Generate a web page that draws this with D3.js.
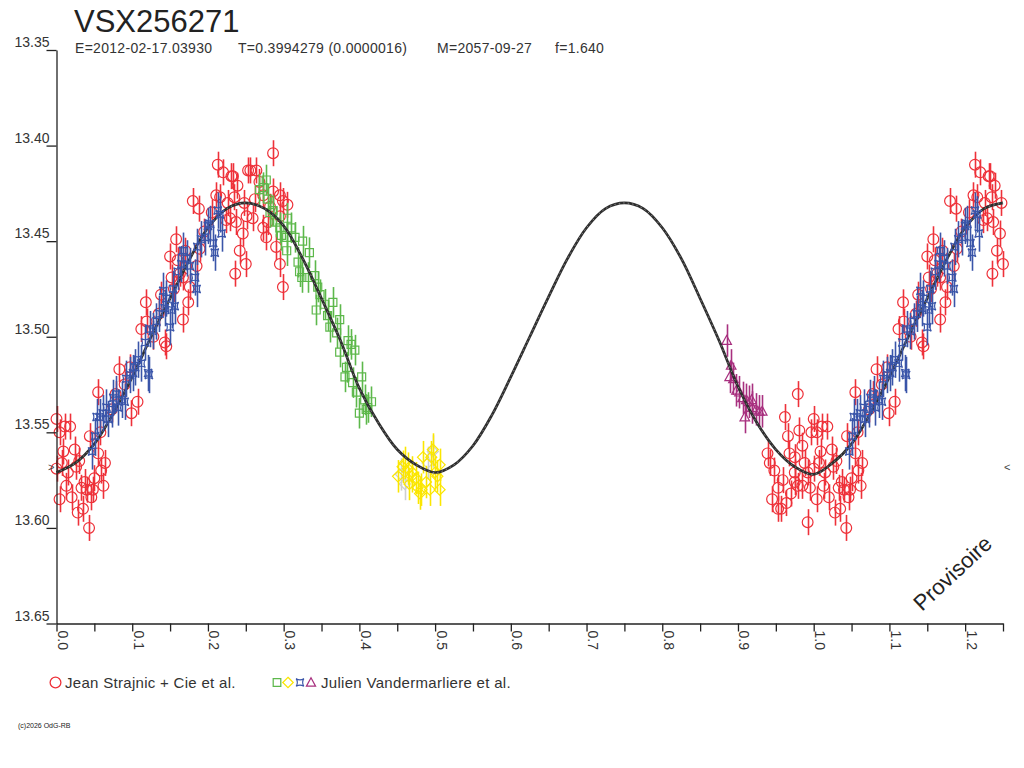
<!DOCTYPE html>
<html>
<head>
<meta charset="utf-8">
<script src="https://cdn.jsdelivr.net/npm/d3@7"></script>
<style>
	body { margin: 0; background: #fff; }
	svg { display: block; font-family: "Liberation Sans", Arial, sans-serif; }
</style>
</head>
<body>
<figure id="lightcurve" style="margin:0"></figure>
<script>
// phase / magnitude pairs (phases 0..1, the first quarter is repeated after 1.0)
var redPoints = [
	[0.000,13.543],[0.004,13.550],[0.011,13.547],[0.018,13.547],[0.004,13.585],[0.020,13.584],[0.035,13.590],
	[0.043,13.600],[0.046,13.584],[0.048,13.580],[0.050,13.574],[0.059,13.570],[0.064,13.566],[0.055,13.561],
	[0.044,13.552],[0.024,13.559],[0.009,13.560],[0.015,13.571],[0.033,13.579],[0.026,13.568],[0.037,13.576],
	[0.000,13.569],[0.040,13.580],[0.030,13.565],[0.013,13.578],[0.058,13.550],[0.062,13.578],[0.028,13.592],
	[0.007,13.566],
	[0.055,13.529],[0.083,13.517],[0.097,13.516],[0.107,13.534],[0.099,13.540],[0.112,13.496],[0.119,13.492],
	[0.118,13.482],[0.143,13.503],[0.145,13.505],[0.150,13.458],[0.158,13.449],[0.152,13.469],[0.160,13.460],
	[0.163,13.467],[0.167,13.491],[0.174,13.482],[0.167,13.469],[0.180,13.429],[0.188,13.433],[0.176,13.474],
	[0.189,13.454],[0.185,13.463],[0.090,13.525],[0.073,13.538],[0.128,13.500],[0.135,13.488],[0.155,13.475],
	[0.170,13.455],[0.195,13.445],[0.078,13.530],[0.138,13.478],
	[0.211,13.426],[0.213,13.410],[0.220,13.414],[0.231,13.416],[0.239,13.421],[0.229,13.438],[0.236,13.467],
	[0.242,13.455],[0.250,13.462],[0.253,13.413],[0.246,13.446],[0.224,13.439],[0.216,13.427],[0.237,13.440],
	[0.286,13.404],[0.256,13.413],[0.264,13.413],[0.233,13.416],[0.235,13.427],[0.259,13.438],[0.251,13.437],
	[0.273,13.443],[0.277,13.448],[0.286,13.424],[0.295,13.426],[0.299,13.429],[0.305,13.431],[0.290,13.453],
	[0.295,13.462],[0.299,13.474],[0.268,13.419],[0.282,13.432],[0.295,13.437],[0.273,13.426],[0.205,13.435],
	[0.226,13.430],[0.262,13.428],[0.248,13.430],[0.279,13.440],
	[0.979,13.530],[0.962,13.542],[0.939,13.561],[0.942,13.566],[0.948,13.570],[0.953,13.579],[0.953,13.590],
	[0.964,13.587],[0.957,13.590],[0.968,13.561],[0.975,13.563],[0.981,13.549],[0.985,13.557],[0.975,13.571],
	[0.992,13.597],[0.997,13.550],[0.979,13.578],[0.985,13.578],[0.992,13.571],[0.975,13.576],[0.995,13.579],
	[0.959,13.575],[0.970,13.582],[0.988,13.566],[0.945,13.585],[0.966,13.552]
];
var bluePoints = [
	[0.047,13.560],[0.051,13.552],[0.053,13.542],[0.057,13.542],[0.061,13.540],[0.066,13.537],[0.068,13.543],
	[0.073,13.538],[0.075,13.532],[0.079,13.530],[0.081,13.537],[0.086,13.533],[0.090,13.534],[0.092,13.522],
	[0.097,13.520],[0.101,13.519],[0.104,13.516],[0.107,13.512],[0.112,13.514],[0.117,13.503],[0.121,13.519],
	[0.123,13.496],[0.127,13.497],[0.132,13.492],[0.136,13.488],[0.141,13.476],[0.143,13.485],[0.145,13.480],
	[0.154,13.475],[0.156,13.484],[0.160,13.466],[0.165,13.462],[0.167,13.455],[0.172,13.459],[0.176,13.463],
	[0.183,13.469],[0.185,13.475],[0.186,13.453],[0.191,13.449],[0.196,13.448],[0.200,13.442],[0.203,13.441],
	[0.207,13.451],[0.209,13.456],[0.213,13.434],[0.218,13.446],[0.216,13.436],[0.122,13.520],[0.150,13.495],
	[0.152,13.486]
];
var greenPoints = [
	[0.273,13.422],[0.277,13.418],[0.268,13.423],[0.279,13.428],[0.282,13.435],[0.286,13.434],[0.290,13.440],
	[0.295,13.443],[0.297,13.447],[0.304,13.448],[0.305,13.438],[0.310,13.443],[0.315,13.448],[0.304,13.455],
	[0.325,13.450],[0.334,13.456],[0.319,13.461],[0.321,13.466],[0.324,13.469],[0.332,13.469],[0.341,13.468],
	[0.345,13.474],[0.348,13.478],[0.343,13.486],[0.354,13.483],[0.358,13.489],[0.365,13.482],[0.361,13.495],
	[0.374,13.491],[0.370,13.498],[0.374,13.508],[0.385,13.502],[0.383,13.516],[0.394,13.507],[0.381,13.521],
	[0.389,13.504],[0.403,13.521],[0.391,13.524],[0.396,13.529],[0.400,13.540],[0.407,13.533],[0.411,13.537],
	[0.416,13.534],[0.409,13.538]
];
var grayPoints = [
	[0.455,13.572],[0.497,13.560],[0.490,13.566],[0.460,13.577]
];
var yellowPoints = [
	[0.451,13.573],[0.460,13.566],[0.464,13.569],[0.466,13.577],[0.470,13.571],[0.475,13.574],[0.477,13.579],
	[0.482,13.580],[0.484,13.563],[0.488,13.576],[0.493,13.580],[0.495,13.563],[0.497,13.559],[0.500,13.571],
	[0.506,13.567],[0.503,13.573],[0.506,13.580],[0.457,13.568],[0.469,13.573],[0.480,13.582]
];
var purplePoints = [
	[0.885,13.502],[0.891,13.515],[0.889,13.521],[0.894,13.522],[0.898,13.528],[0.902,13.529],[0.906,13.532],
	[0.911,13.533],[0.915,13.534],[0.919,13.537],[0.924,13.538],[0.928,13.539],[0.932,13.539],[0.909,13.542],
	[0.918,13.533]
];
// one-sigma error of each series (mag)
var redErr = 0.0068, blueErr = 0.0095, greenErr = 0.0080, grayErr = 0.0085, yellowErr = 0.0085, purpleErr = 0.0085;

// fitted light curve, phase 0..1 by 0.025
var curvePhase = [0.000,0.025,0.050,0.075,0.100,0.125,0.150,0.175,0.200,0.225,0.250,0.275,0.300,0.325,0.350,0.375,0.400,
	0.425,0.450,0.475,0.500,0.525,0.550,0.575,0.600,0.625,0.650,0.675,0.700,0.725,0.750,0.775,0.800,0.825,0.850,0.875,
	0.900,0.925,0.950,0.975,1.000];
var curveMag = [13.571,13.566,13.556,13.540,13.521,13.500,13.480,13.460,13.443,13.433,13.430,13.433,13.442,13.459,13.480,
	13.502,13.527,13.545,13.559,13.567,13.571,13.567,13.557,13.541,13.521,13.500,13.479,13.459,13.443,13.433,13.430,
	13.433,13.443,13.459,13.480,13.502,13.526,13.545,13.559,13.568,13.572];

// ticks
var yTicks = [13.35, 13.40, 13.45, 13.50, 13.55, 13.60, 13.65];
var xMajor = [0.0, 0.1, 0.2, 0.3, 0.4, 0.5, 0.6, 0.7, 0.8, 0.9, 1.0, 1.1, 1.2];
var xMinor = [0.05, 0.15, 0.25, 0.35, 0.45, 0.55, 0.65, 0.75, 0.85, 0.95, 1.05, 1.15, 1.25];
var minMark = 13.568; // the little < > marks on both sides

var title = "VSX256271";
var elements = [ "E=2012-02-17.03930", "T=0.3994279 (0.0000016)", "M=2057-09-27", "f=1.640" ];
var observers = [ "Jean Strajnic + Cie et al.", "Julien Vandermarliere et al." ];

var dims = { width: 1024, height: 768 };
var svg = d3.select( "figure#lightcurve" )
	.append( "svg" )
	.attr( "width", dims.width )
	.attr( "height", dims.height );

var xScale = d3.scaleLinear().domain( [ 0, 1.25 ] ).range( [ 56.5, 1003 ] );
var yScale = d3.scaleLinear().domain( [ 13.35, 13.65 ] ).range( [ 50, 623.5 ] );

// repeat phases 0..0.25 after 1.0
var fold = function( pts ) {
	var out = pts.slice();
	pts.forEach( function( d ) { if ( d[0] + 1 <= 1.25 ) out.push( [ d[0] + 1, d[1] ] ); } );
	return out;
};

var plot = svg.append( "g" );

var starPath = "M-4,-4Q0,-1.5,4,-4Q1.5,0,4,4Q0,1.5,-4,4Q-1.5,0,-4,-4Z";
var shapes = {
	circle: d3.symbol().type( d3.symbolCircle ).size( Math.PI * 29 )(),
	square: "M-4,-4H4V4H-4Z",
	diamond: "M0,-5.5L5.5,0L0,5.5L-5.5,0Z",
	star: starPath,
	triangle: "M0,-5L4.8,3.8H-4.8Z"
};

function drawSeries( pts, err, color, shape ) {
	var data = fold( pts );
	var g = plot.append( "g" );
	g.selectAll( "line" )
		.data( data )
		.enter()
		.append( "line" )
		.attr( "x1", d => Math.round( xScale( d[0] ) ) + 0.5 )
		.attr( "x2", d => Math.round( xScale( d[0] ) ) + 0.5 )
		.attr( "y1", d => yScale( d[1] - err ) )
		.attr( "y2", d => yScale( d[1] + err ) )
		.attr( "stroke", color )
		.attr( "stroke-width", 1.6 );
	g.selectAll( "path" )
		.data( data )
		.enter()
		.append( "path" )
		.attr( "d", shapes[ shape ] )
		.attr( "transform", d => `translate(${xScale( d[0] )},${yScale( d[1] )})` )
		.attr( "fill", "none" )
		.attr( "stroke", color )
		.attr( "stroke-width", 1.2 );
}

drawSeries( redPoints, redErr, "#ee3139", "circle" );
drawSeries( greenPoints, greenErr, "#5db84b", "square" );
drawSeries( grayPoints, grayErr, "#cfcfcf", "diamond" );
drawSeries( yellowPoints, yellowErr, "#fbe600", "diamond" );
drawSeries( purplePoints, purpleErr, "#a8307f", "triangle" );

// model curve (rough double stroke like the original)
var curveData = curvePhase.map( ( p, i ) => [ p, curveMag[i] ] );
curveData = curveData.concat( curveData.filter( d => d[0] > 0 && d[0] + 1 <= 1.25 ).map( d => [ d[0] + 1, d[1] ] ) );
var line = d3.line()
	.x( d => xScale( d[0] ) )
	.y( d => yScale( d[1] ) )
	.curve( d3.curveCatmullRom );
plot.append( "path" )
	.datum( curveData )
	.attr( "d", line )
	.attr( "fill", "none" )
	.attr( "stroke", "#2e2e2e" )
	.attr( "stroke-width", 2.7 );
plot.append( "path" )
	.datum( curveData )
	.attr( "d", line )
	.attr( "fill", "none" )
	.attr( "stroke", "#ffffff" )
	.attr( "stroke-opacity", 0.6 )
	.attr( "stroke-width", 0.7 )
	.attr( "stroke-dasharray", "1.5,3" );

drawSeries( bluePoints, blueErr, "#3a55a9", "star" );

// axes
var yAxis = svg.append( "g" )
	.attr( "transform", "translate(56.5,0)" )
	.call( d3.axisLeft( yScale )
		.tickValues( yTicks )
		.tickSize( 10 )
		.tickSizeOuter( 0 )
		.tickFormat( d3.format( ".2f" ) ) );
yAxis.selectAll( "text" )
	.attr( "x", -7 )
	.attr( "dy", "-0.25em" )
	.style( "font-size", "14px" )
	.style( "fill", "#333" );

var xAxis = svg.append( "g" )
	.attr( "transform", "translate(0,623.5)" )
	.call( d3.axisBottom( xScale )
		.tickValues( xMajor.concat( xMinor ) )
		.tickSize( 8 )
		.tickSizeOuter( 0 )
		.tickFormat( d => xMajor.indexOf( d ) >= 0 ? d3.format( ".1f" )( d ) : "" ) );
xAxis.selectAll( "text" )
	.attr( "transform", "rotate(90)" )
	.attr( "x", 7 )
	.attr( "y", -1 )
	.attr( "dy", 0 )
	.style( "text-anchor", "start" )
	.style( "font-size", "14px" )
	.style( "fill", "#333" );

svg.selectAll( ".domain, .tick line" )
	.attr( "stroke", "#222" )
	.attr( "stroke-width", 1.3 );

// < > markers at the minimum level
svg.append( "text" ).attr( "x", 48 ).attr( "y", yScale( minMark ) + 4 )
	.style( "font-size", "11px" ).style( "fill", "#444" ).text( ">" );
svg.append( "text" ).attr( "x", 1004 ).attr( "y", yScale( minMark ) + 4 )
	.style( "font-size", "11px" ).style( "fill", "#444" ).text( "<" );

// title + elements
svg.append( "text" ).attr( "x", 74 ).attr( "y", 32 )
	.style( "font-size", "31px" ).style( "fill", "#222" ).text( title );
var elemX = [ 75, 238, 437, 555 ];
svg.selectAll( "text.elem" )
	.data( elements )
	.enter()
	.append( "text" )
	.attr( "class", "elem" )
	.attr( "x", ( d, i ) => elemX[i] )
	.attr( "y", 53 )
	.style( "font-size", "14px" )
	.style( "letter-spacing", "0.3px" )
	.style( "fill", "#333" )
	.text( d => d );

// legend
var leg = svg.append( "g" ).attr( "transform", "translate(0,682.5)" );
leg.append( "path" ).attr( "d", shapes.circle ).attr( "transform", "translate(55.5,0)" )
	.attr( "fill", "none" ).attr( "stroke", "#ee3139" ).attr( "stroke-width", 1.3 );
leg.append( "text" ).attr( "x", 65 ).attr( "y", 5.5 ).style( "font-size", "15px" )
	.style( "letter-spacing", "0.3px" ).style( "fill", "#333" ).text( observers[0] );
var legShapes = [ [ "square", "#5db84b", 277 ], [ "diamond", "#fbe600", 288 ], [ "star", "#3a55a9", 300 ], [ "triangle", "#a8307f", 311 ] ];
legShapes.forEach( function( s ) {
	leg.append( "path" ).attr( "d", shapes[ s[0] ] )
		.attr( "transform", `translate(${s[2]},0) scale(0.95)` )
		.attr( "fill", "none" ).attr( "stroke", s[1] ).attr( "stroke-width", 1.3 );
} );
leg.append( "text" ).attr( "x", 321 ).attr( "y", 5.5 ).style( "font-size", "15px" )
	.style( "letter-spacing", "0.3px" ).style( "fill", "#333" ).text( observers[1] );

svg.append( "text" ).attr( "x", 18 ).attr( "y", 728 )
	.style( "font-size", "7px" ).style( "fill", "#222" ).text( "(c)2026 OdG-RB" );

svg.append( "text" )
	.attr( "transform", "translate(922,612) rotate(-43)" )
	.style( "font-size", "22px" )
	.style( "fill", "#222" )
	.text( "Provisoire" );
</script>
</body>
</html>
